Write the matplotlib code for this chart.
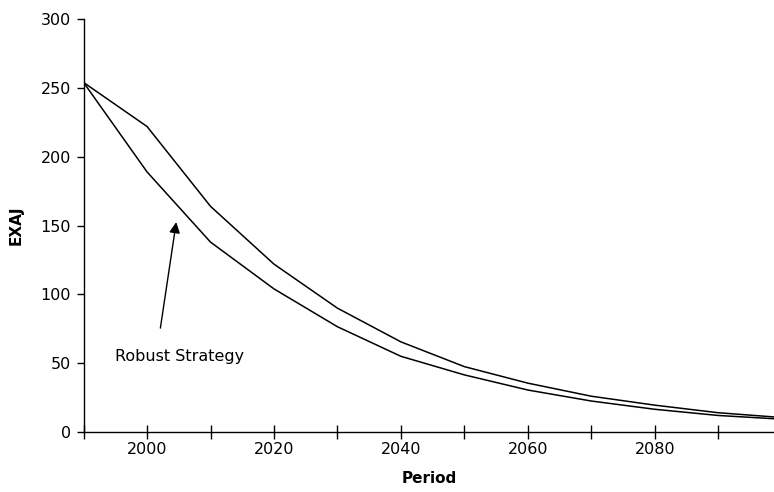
import matplotlib
matplotlib.use("Agg")
import matplotlib.pyplot as plt

years = [1990, 2000, 2010, 2020, 2030, 2040, 2050, 2060, 2070, 2080, 2090, 2100]
upper = [254, 222, 164, 122, 90, 65.5, 47.5, 35.5, 26, 19.5, 14, 10.5]
robust = [254, 189, 138, 104, 76.5, 55, 41.5, 30.5, 22.5, 16.5, 12, 9.3]

xticks = list(range(1990, 2100, 10))
xlabels = [str(y) if y % 20 == 0 else "" for y in xticks]
yticks = [0, 50, 100, 150, 200, 250, 300]

fig = plt.figure(figsize=(7.74, 4.92), dpi=100)
ax = fig.add_axes([0.108, 0.122, 0.892, 0.839])

ax.plot(years, upper, color="black", lw=1.1)
ax.plot(years, robust, color="black", lw=1.1)

ax.set_xlim(1990, 2098.8)
ax.set_ylim(0, 300)
ax.set_xticks(xticks)
ax.set_xticklabels(xlabels)
ax.set_yticks(yticks)

for side in ["top", "right"]:
    ax.spines[side].set_visible(False)
for side in ["left", "bottom"]:
    ax.spines[side].set_linewidth(1.0)

ax.tick_params(axis="x", direction="inout", length=10, width=1, labelsize=11.5, pad=2)
ax.tick_params(axis="y", direction="out", length=5, width=1, labelsize=11.5, pad=4)

ax.set_xlabel("Period", fontsize=11, fontweight="bold", labelpad=10)
ax.set_ylabel("EXAJ", fontsize=11, fontweight="bold", labelpad=12)

# label and pointer
ax.text(1995, 54.5, "Robust Strategy", fontsize=11.5, va="center", ha="left")
ax.annotate("", xy=(2004.6, 152.5), xytext=(2002.1, 75.5),
            arrowprops=dict(arrowstyle="-|>", color="black", lw=1,
                            mutation_scale=16, shrinkA=0, shrinkB=0))

fig.savefig("out.png", dpi=100)
